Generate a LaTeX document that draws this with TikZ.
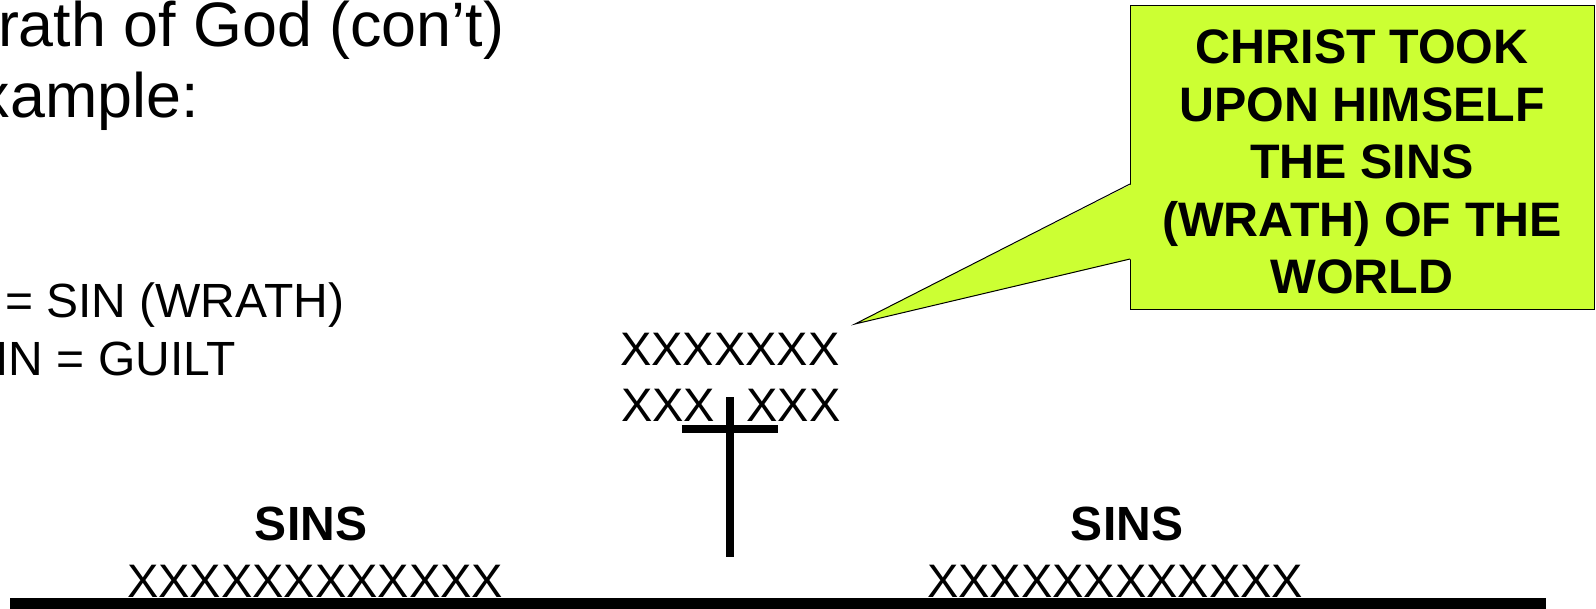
\documentclass[tikz,border=0pt]{standalone}
\usepackage{fontspec}
\setmainfont{Liberation Sans}
\usetikzlibrary{positioning, calc}
\definecolor{calloutlime}{RGB}{204,255,51}

\begin{document}
\begin{tikzpicture}[
  x=0.5pt, y=-0.5pt,
  every node/.style={inner sep=0pt, outer sep=0pt},
  heading/.style={anchor=base west, font=\fontsize{31.4}{37.7}\selectfont},
  plain/.style={anchor=base west, font=\fontsize{23.5}{28.5}\selectfont},
  rule/.style={anchor=base west, font=\fontsize{24}{28.5}\selectfont},
  sinshead/.style={anchor=base, font=\bfseries\fontsize{24}{28.5}\selectfont},
  notebox/.style={
    draw,
    fill=calloutlime,
    line width=0.5pt,
    minimum width=232pt,
    minimum height=152pt
  },
  notetext/.style={
    align=center,
    font=\bfseries\fontsize{24.2}{28.75}\selectfont
  }
]

\useasboundingbox (0,0) rectangle (1596,609);
\clip (0,0) rectangle (1596,609);

% ------------------------------------------------------------
% Slide text on the left
% ------------------------------------------------------------

\node[heading] (head) at (-2,47) {rath of God (con’t)};
\node[heading] (ex) at (-21,118) {xample:};

\node[rule] (sinrule) at (5,318) {= SIN (WRATH)};
\node[rule] (guiltrule) at (-4.5,375) {IN = GUILT};

% ------------------------------------------------------------
% Sins above the cross
% ------------------------------------------------------------

\node[plain] (toprow) at (620,365) {XXXXXXX};
\node[plain] (midrow) at (621,422) {XXX\phantom{X}XXX};

% cross
\fill (726,397) rectangle (734,557);
\fill (682,425) rectangle (778,433);

% ------------------------------------------------------------
% Sins on either side
% ------------------------------------------------------------

\node[plain] (leftrow) at (127,597) {XXXXXXXXXXXX};
\node[sinshead] (leftsins) at (311,540) {SINS};

\node[plain] (rightrow) at (927,597) {XXXXXXXXXXXX};
\node[sinshead] (rightsins) at (1127,540) {SINS};

% ground
\fill (10,598) rectangle (1546,609);

% ------------------------------------------------------------
% Callout
% ------------------------------------------------------------

\node[notebox] (note) at (1362,158) {};
\node[notetext] (notetext) at (1362,162) {CHRIST TOOK\\UPON HIMSELF\\THE SINS\\(WRATH) OF THE\\WORLD};
\coordinate (tip) at (855,324);

\fill[calloutlime] ($(note.north west)+(2,178)$) -- (tip) -- ($(note.north west)+(2,253)$) -- cycle;
\draw[line width=0.5pt, line join=miter] ($(note.north west)+(0,178)$) -- (tip) -- ($(note.north west)+(0,253)$);

\end{tikzpicture}
\end{document}
